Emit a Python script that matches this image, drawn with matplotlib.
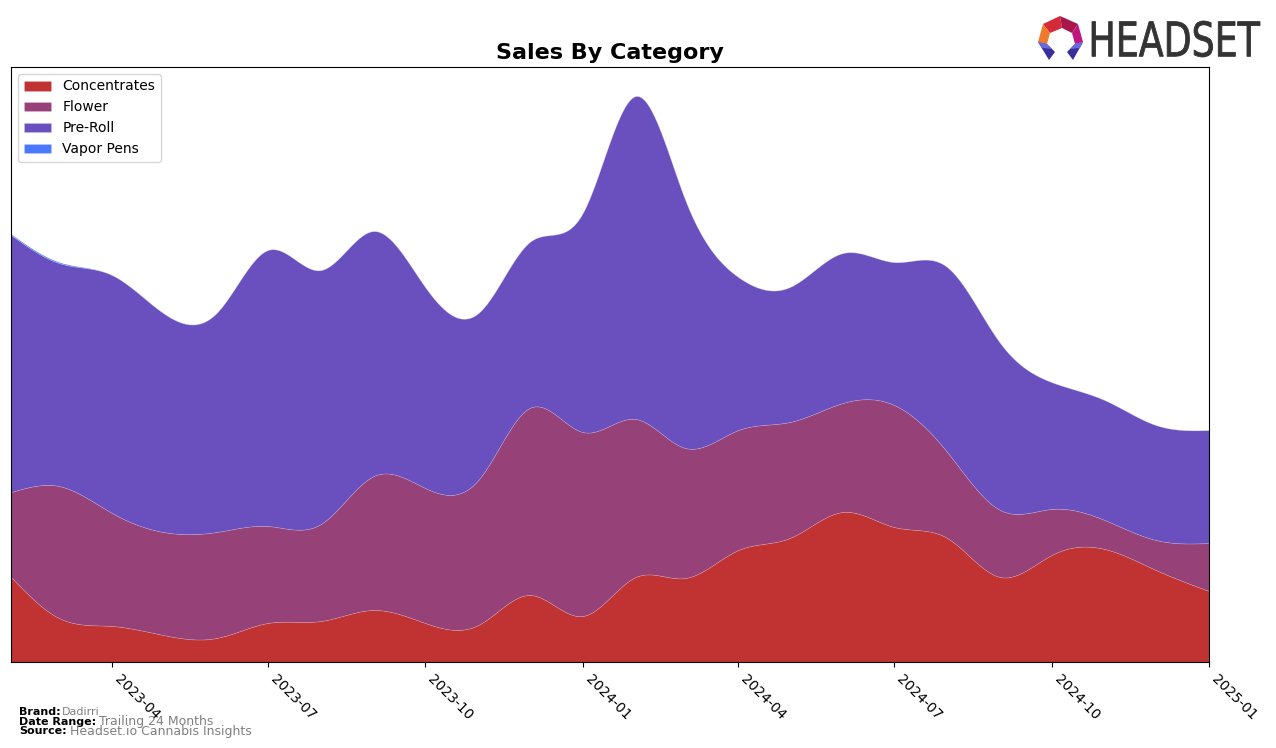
import numpy as np
import pandas as pd
import matplotlib
matplotlib.use("Agg")
import matplotlib.pyplot as plt
import matplotlib.dates as mdates
from matplotlib.textpath import TextPath
from matplotlib.patches import PathPatch, Polygon
from matplotlib.font_manager import FontProperties
from matplotlib.transforms import Affine2D

# monthly sales (arbitrary units)
months = pd.date_range("2023-02-01", "2025-01-01", freq="MS")
categories = ["Concentrates", "Flower", "Pre-Roll", "Vapor Pens"]
concentrates = [85, 44, 36, 27, 24, 39, 41, 52, 39, 37, 67, 46,
                85, 84, 112, 124, 150, 135, 124, 85, 107, 113, 92, 71]
flower = [85, 132, 113, 103, 106, 97, 97, 134, 135, 145, 187, 184,
          158, 130, 120, 116, 109, 122, 86, 67, 46, 29, 30, 48]
pre_roll = [257, 223, 238, 219, 219, 276, 254, 245, 201, 167, 166, 219,
            323, 248, 153, 135, 150, 143, 185, 167, 127, 120, 115, 113]
vapor_pens = [1, 1, 0, 0, 0, 0, 0, 0, 0, 0, 0, 0,
              0, 0, 0, 0, 0, 0, 0, 0, 0, 0, 0, 0]
colors = ["#C13232", "#964178", "#6A4FBE", "#4A78FF"]


def spline(x, y, xs):
    # natural cubic spline, just for drawing smooth edges
    x = np.asarray(x, float)
    y = np.asarray(y, float)
    n = len(x)
    h = np.diff(x)
    A = np.zeros((n, n))
    r = np.zeros(n)
    A[0, 0] = A[-1, -1] = 1
    for i in range(1, n - 1):
        A[i, i - 1] = h[i - 1]
        A[i, i] = 2 * (h[i - 1] + h[i])
        A[i, i + 1] = h[i]
        r[i] = 6 * ((y[i + 1] - y[i]) / h[i] - (y[i] - y[i - 1]) / h[i - 1])
    M = np.linalg.solve(A, r)
    k = np.clip(np.searchsorted(x, xs) - 1, 0, n - 2)
    t0 = xs - x[k]
    t1 = x[k + 1] - xs
    hk = h[k]
    return (M[k] * t1 ** 3 / (6 * hk) + M[k + 1] * t0 ** 3 / (6 * hk)
            + (y[k] / hk - M[k] * hk / 6) * t1
            + (y[k + 1] / hk - M[k + 1] * hk / 6) * t0)


fig = plt.figure(figsize=(12.76, 7.48), dpi=100)
ax = fig.add_axes([11 / 1276, 1 - 662 / 748, (1209 - 11) / 1276, (662 - 67) / 748])

xd = mdates.date2num(months)
xs = np.linspace(xd[0], xd[-1], 800)
base = np.zeros_like(xs)
for name, vals, c in zip(categories, [concentrates, flower, pre_roll, vapor_pens], colors):
    ys = np.clip(spline(xd, vals, xs), 0, None)
    ax.fill_between(xs, base, base + ys, facecolor=c, edgecolor=(1, 1, 1, 0.2),
                    linewidth=0.5, label=name)
    base = base + ys

ax.set_xlim(xd[0], xd[-1])
ax.set_ylim(0, 595)
ax.set_yticks([])
ticks = pd.to_datetime(["2023-04-01", "2023-07-01", "2023-10-01", "2024-01-01",
                        "2024-04-01", "2024-07-01", "2024-10-01", "2025-01-01"])
ax.set_xticks(mdates.date2num(ticks))
ax.set_xticklabels([t.strftime("%Y-%m") for t in ticks], rotation=-45, ha="left",
                   va="top", fontsize=10)
ax.set_title("Sales By Category", fontsize=16, fontweight="bold", pad=6)
ax.legend(loc="upper left", fontsize=10)

# footer
fig.text(19 / 1276, 1 - 712 / 748, "Brand:", fontsize=8, fontweight="bold", va="center")
fig.text(62 / 1276, 1 - 712 / 748, "Dadirri", fontsize=8, color="gray", va="center")
fig.text(19 / 1276, 1 - 722 / 748, "Date Range:", fontsize=8, fontweight="bold", va="center")
fig.text(99 / 1276, 1 - 722 / 748, "Trailing 24 Months", fontsize=9, color="gray", va="center")
fig.text(19 / 1276, 1 - 731 / 748, "Source:", fontsize=8, fontweight="bold", va="center")
fig.text(70 / 1276, 1 - 731 / 748, "Headset.io Cannabis Insights", fontsize=9, color="gray",
         va="center")

# headset logo (pixel coords, y flipped)
def px(pts):
    return [(x / 1276, 1 - y / 748) for x, y in pts]

logo = [
    ([(1043, 24), (1060, 16), (1062, 28), (1050, 33)], "#D42A3A"),
    ([(1060, 16), (1078, 24), (1072, 33), (1062, 28)], "#A8174A"),
    ([(1078, 24), (1083, 42), (1075, 44), (1072, 33)], "#C0177E"),
    ([(1043, 24), (1050, 33), (1047, 44), (1038, 42)], "#F07A2A"),
    ([(1038, 42), (1047, 44), (1055, 52), (1049, 60)], "#3A2F9A"),
    ([(1083, 42), (1075, 44), (1067, 52), (1073, 60)], "#3A2F9A"),
    ([(1038, 42), (1047, 44), (1052, 49), (1042, 48)], "#6A6AE0"),
    ([(1083, 42), (1075, 44), (1070, 49), (1080, 48)], "#6A6AE0"),
]
for pts, c in logo:
    fig.patches.append(Polygon(px(pts), closed=True, facecolor=c, edgecolor="none",
                               transform=fig.transFigure))

tp = TextPath((0, 0), "HEADSET", size=10, prop=FontProperties(family="DejaVu Sans"))
bb = tp.get_extents()
sx = (1260 - 1092) / bb.width
sy = (57 - 21) / bb.height
tr = (Affine2D().translate(-bb.x0, -bb.y0).scale(sx, sy)
      .translate(1092, 748 - 57))
patch = PathPatch(tr.transform_path(tp), facecolor="#333333", edgecolor="#333333",
                  linewidth=0.6, transform=None)
fig.patches.append(patch)

fig.savefig("out.png", dpi=100)
